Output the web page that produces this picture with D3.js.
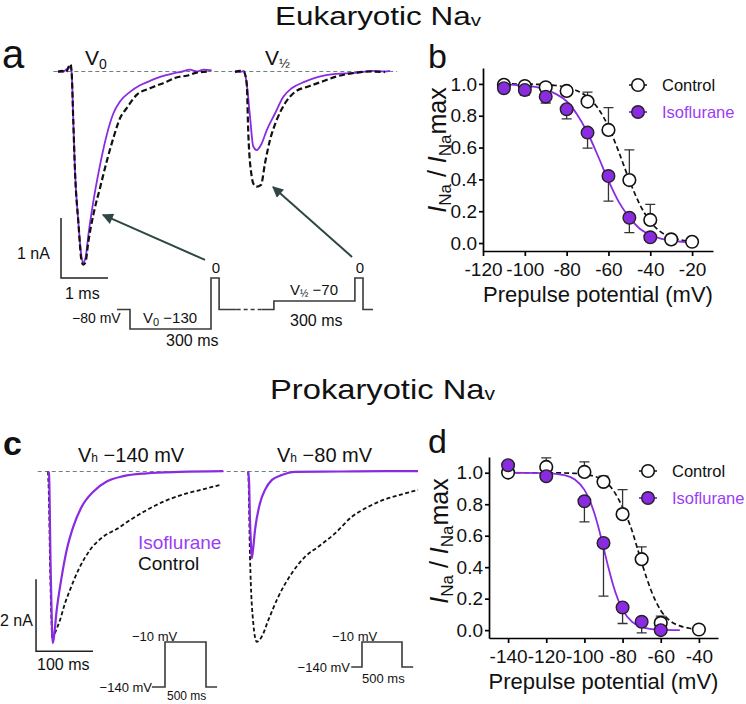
<!DOCTYPE html>
<html><head><meta charset="utf-8">
<script src="https://cdn.jsdelivr.net/npm/d3@7"></script>
<style>body{margin:0;background:#fff}svg{display:block}</style>
</head><body><svg id="fig" width="746" height="704"></svg>
<script>
// ================= DATA =================
// Panel a: current traces, [time (ms), current (nA)]
const aV0Control = [[0,-0.01],[0.085,0.01],[0.17,-0.01],[0.234,0.09],[0.266,0.12],[0.29,-0.01],[0.326,-0.84],[0.362,-1.67],[0.432,-2.5],[0.504,-3.17],[0.538,-3.22],[0.585,-3.18],[0.645,-2.84],[0.751,-2.39],[0.894,-1.94],[1.036,-1.5],[1.177,-1.11],[1.319,-0.78],[1.462,-0.61],[1.674,-0.39],[1.957,-0.28],[2.313,-0.17],[2.52,-0.1],[2.738,-0.07],[2.95,-0.02],[3.234,0.0]];
const aV0Iso = [[0,0.01],[0.085,-0.01],[0.17,0.03],[0.234,0.06],[0.266,0.09],[0.29,-0.01],[0.326,-0.84],[0.362,-1.67],[0.432,-2.5],[0.504,-3.11],[0.538,-3.18],[0.585,-3.11],[0.645,-2.73],[0.751,-2.17],[0.894,-1.56],[1.036,-1.06],[1.177,-0.7],[1.319,-0.5],[1.532,-0.34],[1.745,-0.23],[1.95,-0.16],[2.1,-0.11],[2.3,-0.06],[2.453,-0.03],[2.65,0.0],[2.809,0.03],[2.95,0.0],[3.1,0.03],[3.27,0.02]];
const aVhalfControl = [[0,-0.01],[0.106,0.01],[0.191,-0.01],[0.249,-0.2],[0.283,-1.03],[0.355,-1.75],[0.404,-1.89],[0.462,-1.92],[0.553,-1.89],[0.638,-1.53],[0.745,-1.14],[0.887,-0.81],[1.064,-0.53],[1.277,-0.34],[1.56,-0.25],[1.845,-0.17],[2.128,-0.09],[2.483,-0.03],[2.909,0.0],[3.19,-0.01]];
const aVhalfIso = [[0,0.01],[0.106,-0.01],[0.191,0.01],[0.249,-0.2],[0.319,-0.75],[0.389,-1.25],[0.462,-1.31],[0.568,-1.2],[0.674,-0.98],[0.851,-0.7],[1.028,-0.42],[1.206,-0.28],[1.489,-0.17],[1.772,-0.09],[2.128,-0.04],[2.623,-0.02],[2.9,0.01],[3.19,0.0],[3.3,0.01]];
// Panel a: voltage protocol (ms, mV)
const protoA1Times = [-48, 0, 300, 330, 395];
const protoA1Volts = [-80, -130, 0, -80];
const protoGapTimes = [395, 488];
const protoA2Times = [488, 533, 833, 863, 900];
const protoA2Volts = [-80, -70, 0, -80];

// Panel b: steady-state inactivation, eukaryotic
const prepulseB = [-110, -100, -90, -80, -70, -60, -50, -40, -30, -20];
const controlB = [0.994, 0.987, 0.979, 0.956, 0.889, 0.711, 0.396, 0.145, 0.023, 0.008];
const controlBErr = [0, 0, 0, 0, 0.059, 0.14, 0.189, 0.098, 0, 0];
const prepulseBIso = [-110, -100, -90, -80, -70, -60, -50, -40];
const isoB = [0.973, 0.962, 0.920, 0.841, 0.694, 0.421, 0.159, 0.036];
const isoBErr = [0, 0.032, 0.04, 0.061, 0.098, 0.157, 0.094, 0];
const fitBControlV = [-110, -100, -90, -85, -80, -75, -70, -65, -60, -55, -50, -45, -40, -35, -30, -25, -20];
const fitBControl = [1.0, 0.999, 0.995, 0.99, 0.979, 0.957, 0.917, 0.847, 0.731, 0.571, 0.394, 0.242, 0.135, 0.07, 0.036, 0.018, 0.009];
const fitBIsoV = [-110, -105, -100, -95, -90, -85, -80, -75, -70, -65, -60, -55, -50, -45, -40, -35, -30, -25, -20];
const fitBIso = [0.997, 0.994, 0.99, 0.981, 0.965, 0.936, 0.891, 0.808, 0.693, 0.547, 0.392, 0.257, 0.161, 0.09, 0.052, 0.028, 0.015, 0.008, 0.004];
const xTicksB = [-120, -100, -80, -60, -40, -20];

// Panel c: current traces, [time (ms), current (nA)]
const cH140Iso = [[0,0],[1.75,-0.05],[4.39,-2.46],[7.02,-4.4],[8.25,-4.77],[9.65,-4.68],[15.26,-3.85],[24.04,-2.92],[32.81,-2.18],[44.39,-1.53],[59.12,-0.98],[79.47,-0.56],[102.98,-0.28],[132.1,-0.13],[173.2,-0.05],[231.6,-0.01],[307.5,0.01]];
const cH140Control = [[0,0],[1.75,-0.79],[3.51,-2.46],[6.14,-4.13],[7.89,-4.68],[12.28,-4.49],[21.05,-4.13],[29.82,-3.66],[38.6,-3.29],[53.16,-2.74],[73.68,-2.18],[97.02,-1.81],[120.5,-1.6],[143.9,-1.35],[173.2,-1.07],[208.2,-0.8],[243.3,-0.61],[278.4,-0.47],[304.7,-0.36]];
const cH80Iso = [[0,0],[1.75,-0.24],[3.51,-1.35],[5.26,-2.04],[6.49,-2.41],[8.77,-2.18],[12.28,-1.63],[21.05,-0.88],[29.82,-0.51],[41.58,-0.24],[59.12,-0.1],[82.46,-0.01],[161.4,0],[240.4,0.01],[298.2,0.01]];
const cH80Control = [[0,0],[0.53,-0.05],[3.51,-2.37],[9.3,-4.22],[15.26,-4.73],[24.04,-4.59],[35.61,-4.13],[53.16,-3.48],[76.67,-2.83],[100,-2.37],[123.3,-2.09],[152.6,-1.72],[181.9,-1.26],[211.1,-0.98],[237.4,-0.79],[266.7,-0.65],[298.2,-0.51]];
// Panel c: voltage protocols (ms, mV)
const protoC1Times = [-160, 0, 500, 635];
const protoC1Volts = [-140, -10, -140];
const protoC2Times = [-135, 0, 500, 640];
const protoC2Volts = [-140, -10, -140];

// Panel d: steady-state inactivation, prokaryotic
const prepulseD = [-140, -120, -100, -90, -80, -70, -60, -40];
const controlD = [1.001, 1.037, 1.005, 0.942, 0.737, 0.451, 0.046, 0.004];
const controlDErr = [0, 0.057, 0.064, 0.036, 0.156, 0.078, 0.043, 0];
const prepulseDIso = [-140, -120, -100, -90, -80, -70, -60];
const isoD = [1.048, 0.978, 0.819, 0.554, 0.144, 0.053, 0.0];
const isoDErr = [0, 0, 0.131, 0.338, 0.102, 0.07, 0];
const fitDControlV = [-140, -120, -105, -100, -95, -90, -85, -80, -77.5, -75, -72.5, -70, -67.5, -65, -62.5, -60, -55, -50, -45, -40];
const fitDControl = [1.0, 1.0, 0.996, 0.99, 0.978, 0.952, 0.89, 0.78, 0.71, 0.63, 0.53, 0.43, 0.335, 0.25, 0.18, 0.125, 0.058, 0.027, 0.012, 0.005];
const fitDIsoV = [-140, -120, -110, -105, -100, -97.5, -95, -92.5, -90, -87.5, -85, -82.5, -80, -75, -70, -65, -60, -50];
const fitDIso = [1.0, 0.998, 0.984, 0.957, 0.891, 0.832, 0.75, 0.646, 0.525, 0.401, 0.289, 0.198, 0.13, 0.052, 0.02, 0.007, 0.003, 0.0];
const xTicksD = [-140, -120, -100, -80, -60, -40];
const yTicks = [0, 0.2, 0.4, 0.6, 0.8, 1.0];

// ================= STYLE =================
const FONT = '"Liberation Sans", Arial, Helvetica, sans-serif';
const PURPLE = "#8a2be2", PURPLE_TXT = "#9b3cf6", BASE_GRAY = "#6d8080", PROTO = "#3a3a3a", ARROW = "#2e4745";
const svg = d3.select("#fig");
svg.append("rect").attr("width", 746).attr("height", 704).attr("fill", "#fff");

svg.append("defs").append("marker").attr("id", "ah").attr("viewBox", "0 0 10 10")
  .attr("refX", 9).attr("refY", 5).attr("markerWidth", 6).attr("markerHeight", 5.5)
  .attr("orient", "auto").attr("markerUnits", "strokeWidth")
  .append("path").attr("d", "M0,0L10,5L0,10z").attr("fill", ARROW);

function addText(x, y, parts, size, o = {}) {
  const t = svg.append("text").attr("x", x).attr("y", y).attr("font-size", size)
    .attr("font-family", FONT).attr("fill", o.fill || "#111")
    .attr("text-anchor", o.anchor || "start");
  if (o.weight) t.attr("font-weight", o.weight);
  if (o.transform) t.attr("transform", o.transform);
  if (o.length) t.attr("textLength", o.length).attr("lengthAdjust", "spacingAndGlyphs");
  if (typeof parts === "string") { t.text(parts); return t; }
  parts.forEach(p => {
    const ts = t.append("tspan").text(p.s);
    if (p.size) ts.attr("font-size", p.size);
    if (p.dy) ts.attr("dy", p.dy);
    if (p.italic) ts.attr("font-style", "italic");
  });
  return t;
}

// ================= TITLES =================
addText(275, 25, [{s: "Eukaryotic Na"}, {s: "v", size: 17, dy: 1}], 26, {length: 206});
addText(270, 399, [{s: "Prokaryotic Na"}, {s: "v", size: 18, dy: 1}], 28, {length: 225});
addText(2, 68, "a", 40);
addText(428, 68, "b", 34);
addText(3, 455, "c", 34, {weight: "bold"});
addText(428, 453, "d", 34);

// ================= TRACES =================
function trace(data, xs, ys, color, dashed, width) {
  const line = d3.line().x(d => xs(d[0])).y(d => ys(d[1])).curve(d3.curveMonotoneX);
  svg.append("path").datum(data).attr("d", line).attr("fill", "none")
    .attr("stroke", color).attr("stroke-width", width)
    .attr("stroke-dasharray", dashed ? dashed : null)
    .attr("stroke-linejoin", "round");
}
function protocol(times, volts, xs, ys) {
  const pts = [];
  volts.forEach((v, i) => { pts.push([times[i], v]); pts.push([times[i + 1], v]); });
  const line = d3.line().x(d => xs(d[0])).y(d => ys(d[1]));
  svg.append("path").datum(pts).attr("d", line).attr("fill", "none")
    .attr("stroke", PROTO).attr("stroke-width", 1.6);
}

// ---- panel a ----
const xA1 = d3.scaleLinear().domain([0, 1]).range([58, 105]);
const xA2 = d3.scaleLinear().domain([0, 1]).range([235, 282]);
const yA = d3.scaleLinear().domain([0, -1]).range([71.5, 131.5]);
svg.append("line").attr("x1", xA1(-0.1)).attr("x2", xA2(3.45)).attr("y1", yA(0)).attr("y2", yA(0))
  .attr("stroke", BASE_GRAY).attr("stroke-width", 1.2).attr("stroke-dasharray", "4,3");
trace(aV0Iso, xA1, yA, PURPLE, null, 1.8);
trace(aV0Control, xA1, yA, "#111", "6,3", 2.2);
trace(aVhalfIso, xA2, yA, PURPLE, null, 1.8);
trace(aVhalfControl, xA2, yA, "#111", "6,3", 2.2);
// scale bars
svg.append("path").attr("d", `M${xA1(0.064)},${yA(-2.44)}V${yA(-3.44)}H${xA1(1.064)}`)
  .attr("fill", "none").attr("stroke", "#222").attr("stroke-width", 1.5);
addText(17, 259, "1 nA", 16);
addText(65, 299, "1 ms", 16);
// arrows
svg.append("line").attr("x1", xA1(3.128)).attr("y1", yA(-3.14)).attr("x2", xA1(0.957)).attr("y2", yA(-2.39))
  .attr("stroke", ARROW).attr("stroke-width", 2).attr("marker-end", "url(#ah)");
svg.append("line").attr("x1", xA2(2.489)).attr("y1", yA(-3.09)).attr("x2", xA2(0.809)).attr("y2", yA(-1.925))
  .attr("stroke", ARROW).attr("stroke-width", 2).attr("marker-end", "url(#ah)");
// protocol
const tPA = d3.scaleLinear().domain([0, 300]).range([130, 211]);
const vPA = d3.scaleLinear().domain([-130, -80, -70, 0]).range([329, 309.5, 301, 278]);
protocol(protoA1Times, protoA1Volts, tPA, vPA);
protocol(protoA2Times, protoA2Volts, tPA, vPA);
svg.append("line").attr("x1", tPA(protoGapTimes[0])).attr("x2", tPA(protoGapTimes[1]))
  .attr("y1", vPA(-80)).attr("y2", vPA(-80)).attr("stroke", PROTO).attr("stroke-width", 1.6)
  .attr("stroke-dasharray", "4,3");
addText(85, 65, [{s: "V"}, {s: "0", size: 14, dy: 4}], 21);
addText(265, 65, [{s: "V"}, {s: "½", size: 13, dy: 3}], 21);
addText(216, 273, "0", 15, {anchor: "middle"});
addText(360, 273, "0", 15, {anchor: "middle"});
addText(72, 323, "\u221280 mV", 14);
addText(143, 323, [{s: "V"}, {s: "0", size: 11, dy: 3}, {s: " \u2212130", dy: -3}], 15);
addText(166, 346, "300 ms", 16);
addText(290, 295, [{s: "V"}, {s: "½", size: 10, dy: 2}, {s: " \u221270", dy: -2}], 15);
addText(290, 326, "300 ms", 16);

// ---- panel c ----
const xC1 = d3.scaleLinear().domain([0, 100]).range([48, 105]);
const xC2 = d3.scaleLinear().domain([0, 100]).range([248, 305]);
const yC = d3.scaleLinear().domain([0, -2]).range([471.5, 543.5]);
svg.append("line").attr("x1", xC1(-18)).attr("x2", xC2(298)).attr("y1", yC(0)).attr("y2", yC(0))
  .attr("stroke", BASE_GRAY).attr("stroke-width", 1.2).attr("stroke-dasharray", "4,3");
trace(cH140Control, xC1, yC, "#111", "4,2.5", 1.8);
trace(cH140Iso, xC1, yC, PURPLE, null, 2.2);
trace(cH80Control, xC2, yC, "#111", "4,2.5", 1.8);
trace(cH80Iso, xC2, yC, PURPLE, null, 2.2);
svg.append("path").attr("d", `M${xC1(-21)},${yC(-2.99)}V${yC(-4.99)}H${xC1(79)}`)
  .attr("fill", "none").attr("stroke", "#222").attr("stroke-width", 1.5);
addText(0, 626, "2 nA", 16);
addText(37, 670, "100 ms", 16);
addText(78, 462, [{s: "V"}, {s: "h", size: 12}, {s: " \u2212140 mV"}], 20);
addText(277, 462, [{s: "V"}, {s: "h", size: 12}, {s: " \u221280 mV"}], 20);
addText(138, 549, "Isoflurane", 19, {fill: PURPLE_TXT});
addText(138, 570, "Control", 19);
const tPC1 = d3.scaleLinear().domain([0, 500]).range([165, 206]);
const vPC1 = d3.scaleLinear().domain([-140, -10]).range([687, 642]);
protocol(protoC1Times, protoC1Volts, tPC1, vPC1);
const tPC2 = d3.scaleLinear().domain([0, 500]).range([362, 402]);
const vPC2 = d3.scaleLinear().domain([-140, -10]).range([667, 642]);
protocol(protoC2Times, protoC2Volts, tPC2, vPC2);
addText(132, 641, "\u221210 mV", 13);
addText(152, 692, "\u2212140 mV", 13, {anchor: "end"});
addText(167, 700, "500 ms", 12);
addText(332, 641, "\u221210 mV", 13);
addText(350, 672, "\u2212140 mV", 13, {anchor: "end"});
addText(362, 683, "500 ms", 13);

// ================= INACTIVATION PANELS =================
function sigPanel(cfg) {
  const x = d3.scaleLinear().domain(cfg.xDomain).range(cfg.xRange);
  const y = d3.scaleLinear().domain([-0.05, 1.1]).range(cfg.yRange);
  const g = svg.append("g");
  const ax = g.append("g").attr("transform", `translate(0,${cfg.yRange[0]})`)
    .call(d3.axisBottom(x).tickValues(cfg.xTicks).tickFormat(d => String(d)).tickSize(5).tickSizeOuter(0).tickPadding(7));
  const ay = g.append("g").attr("transform", `translate(${cfg.xRange[0]},0)`)
    .call(d3.axisLeft(y).tickValues(yTicks).tickFormat(d3.format(".1f")).tickSize(4).tickSizeOuter(0).tickPadding(2));
  [ax, ay].forEach(a => {
    a.attr("font-family", FONT).attr("font-size", 19);
    a.select(".domain").attr("stroke", "#000").attr("stroke-width", 1.7);
    a.selectAll(".tick line").attr("stroke", "#000").attr("stroke-width", 1.7);
    a.selectAll(".tick text").attr("fill", "#111");
  });
  const ln = d3.line().x(d => x(d[0])).y(d => y(d[1])).curve(d3.curveMonotoneX);
  g.append("path").datum(cfg.fitCV.map((v, i) => [v, cfg.fitC[i]])).attr("d", ln)
    .attr("fill", "none").attr("stroke", "#111").attr("stroke-width", 1.7).attr("stroke-dasharray", "5,3");
  g.append("path").datum(cfg.fitIV.map((v, i) => [v, cfg.fitI[i]])).attr("d", ln)
    .attr("fill", "none").attr("stroke", PURPLE).attr("stroke-width", 1.8);
  // error bars (control: up, isoflurane: down)
  const eb = (vs, ms, es, sign) => vs.forEach((v, i) => {
    if (!es[i]) return;
    const y0 = y(ms[i]), y1 = y(ms[i] + sign * es[i]);
    g.append("path").attr("d", `M${x(v)},${y0}V${y1}M${x(v) - 5},${y1}H${x(v) + 5}`)
      .attr("stroke", "#333").attr("stroke-width", 1.3).attr("fill", "none");
  });
  eb(cfg.cV, cfg.c, cfg.cE, 1);
  eb(cfg.iV, cfg.i, cfg.iE, -1);
  g.selectAll(null).data(cfg.cV.map((v, i) => [v, cfg.c[i]])).enter().append("circle")
    .attr("cx", d => x(d[0])).attr("cy", d => y(d[1])).attr("r", 6.3)
    .attr("fill", "#fff").attr("stroke", "#111").attr("stroke-width", 1.6);
  g.selectAll(null).data(cfg.iV.map((v, i) => [v, cfg.i[i]])).enter().append("circle")
    .attr("cx", d => x(d[0])).attr("cy", d => y(d[1])).attr("r", 6.3)
    .attr("fill", PURPLE).attr("stroke", "#222").attr("stroke-width", 1.4);
  // legend
  const L = cfg.legend;
  g.append("line").attr("x1", L.x - 9).attr("x2", L.x + 9).attr("y1", L.y).attr("y2", L.y)
    .attr("stroke", "#111").attr("stroke-width", 1.6).attr("stroke-dasharray", "3,2");
  g.append("circle").attr("cx", L.x).attr("cy", L.y).attr("r", 6.3).attr("fill", "#fff").attr("stroke", "#111").attr("stroke-width", 1.6);
  g.append("line").attr("x1", L.x - 9).attr("x2", L.x + 9).attr("y1", L.y + 27).attr("y2", L.y + 27)
    .attr("stroke", PURPLE).attr("stroke-width", 1.8);
  g.append("circle").attr("cx", L.x).attr("cy", L.y + 27).attr("r", 6.3).attr("fill", PURPLE).attr("stroke", "#222").attr("stroke-width", 1.4);
  addText(L.x + 24, L.y + 6, "Control", 16.5);
  addText(L.x + 24, L.y + 33, "Isoflurane", 16.5, {fill: PURPLE_TXT});
  // axis titles
  const xm = (cfg.xRange[0] + cfg.xRange[1]) / 2;
  addText(xm, cfg.yRange[0] + 51, "Prepulse potential (mV)", 22, {anchor: "middle"});
  addText(0, 0, [{s: "I", italic: true}, {s: "Na", size: 17, dy: 5}, {s: " / ", dy: -5}, {s: "I", italic: true}, {s: "Na", size: 17, dy: 5}, {s: "max", dy: -5}], 25,
    {anchor: "middle", transform: `translate(${cfg.yLabelX},${cfg.yLabelY}) rotate(-90)`});
}

sigPanel({
  xDomain: [-120, -10], xRange: [483, 713], yRange: [251, 68], xTicks: xTicksB,
  cV: prepulseB, c: controlB, cE: controlBErr, iV: prepulseBIso, i: isoB, iE: isoBErr,
  fitCV: fitBControlV, fitC: fitBControl, fitIV: fitBIsoV, fitI: fitBIso,
  legend: {x: 638, y: 85}, yLabelX: 446, yLabelY: 150
});
sigPanel({
  xDomain: [-150, -30], xRange: [489, 718], yRange: [638, 457], xTicks: xTicksD,
  cV: prepulseD, c: controlD, cE: controlDErr, iV: prepulseDIso, i: isoD, iE: isoDErr,
  fitCV: fitDControlV, fitC: fitDControl, fitIV: fitDIsoV, fitI: fitDIso,
  legend: {x: 648, y: 471}, yLabelX: 448, yLabelY: 541
});
</script></body></html>
